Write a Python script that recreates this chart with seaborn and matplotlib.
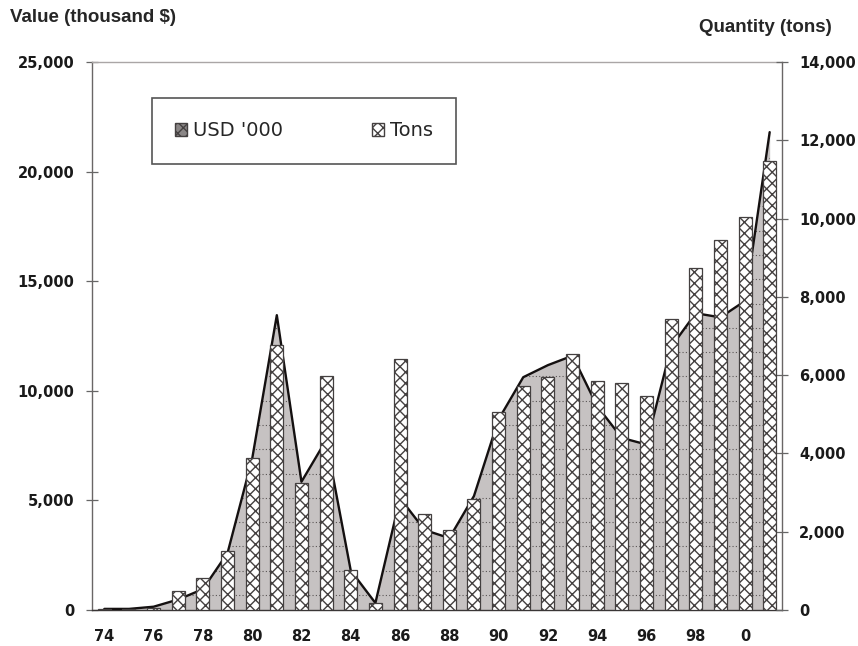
import numpy as np
import pandas as pd
import matplotlib
matplotlib.use("Agg")
import matplotlib.pyplot as plt
import seaborn as sns
from matplotlib.patches import Patch
from matplotlib.ticker import FuncFormatter

# ---- data ----
years = ['74', '75', '76', '77', '78', '79', '80', '81', '82', '83', '84', '85', '86', '87',
         '88', '89', '90', '91', '92', '93', '94', '95', '96', '97', '98', '99', '0', '1']
usd_000 = [50, 50, 150, 480, 950, 2600, 6900, 13450, 5850, 7750, 1800, 320, 5100, 3650,
           3280, 5200, 8700, 10620, 11170, 11600, 9300, 7850, 7550, 12000, 13540, 13350, 14100, 21800]
tons = [20, 20, 60, 480, 830, 1500, 3880, 6780, 3250, 5990, 1030, 190, 6400, 2450,
        2050, 2830, 5050, 5730, 5950, 6540, 5860, 5800, 5460, 7430, 8740, 9460, 10030, 11460]
tick_years = ['74', '76', '78', '80', '82', '84', '86', '88', '90', '92', '94', '96', '98', '0']
usd_ticks = [0, 5000, 10000, 15000, 20000, 25000]
ton_ticks = [0, 2000, 4000, 6000, 8000, 10000, 12000, 14000]

sns.set_theme(style="white")
plt.rcParams['font.family'] = ['DejaVu Sans']
plt.rcParams['hatch.linewidth'] = 1.0

AREA = '#c6c2c2'
EDGE = '#444040'

fig = plt.figure(figsize=(8.58, 6.46), dpi=100)
ax = fig.add_axes([92 / 858, 1 - 610 / 646, 690 / 858, 548 / 646])
ax2 = ax.twinx()

pos = np.arange(len(years))
area = ax.fill_between(pos, usd_000, 0, color=AREA, lw=0, zorder=1)
gl = ax.hlines(np.arange(684, 25000, 1108), -0.5, 27.5, colors='#5a5555',
               linestyles=(0, (1, 2)), lw=0.8, zorder=2)
gl.set_clip_path(area.get_paths()[0], ax.transData)
sns.lineplot(x=pos, y=usd_000, ax=ax, color='#141010', lw=1.7, zorder=3)

df = pd.DataFrame({'year': years, 'tons': tons})
sns.barplot(data=df, x='year', y='tons', ax=ax2, color='white', edgecolor=EDGE,
            linewidth=0.9, hatch='xxx', width=0.53, saturation=1, zorder=4)

# axes limits / ticks
ax.set_xlim(-0.5, 27.5)
ax.set_ylim(0, 25000)
ax2.set_ylim(0, 14000)
ax.set_yticks(usd_ticks)
ax2.set_yticks(ton_ticks)
fmt = FuncFormatter(lambda v, p: f"{v:,.0f}")
ax.yaxis.set_major_formatter(fmt)
ax2.yaxis.set_major_formatter(fmt)

ax.set_xticks([years.index(t) for t in tick_years])
ax.set_xticklabels(tick_years)
ax.set_xticks(np.arange(-0.5, 28, 1), minor=True)
ax.tick_params(axis='x', which='major', length=0, pad=14, labelsize=10.5, labelcolor='#1a1a1a')
ax.tick_params(axis='x', which='minor', direction='inout', length=8, width=0.9, color='#555')
ax.tick_params(axis='y', direction='inout', length=9, width=0.9, color='#666', pad=8,
               labelsize=10.5, labelcolor='#1a1a1a')
ax2.tick_params(axis='y', direction='inout', length=9, width=0.9, color='#666', pad=8,
                labelsize=10.5, labelcolor='#1a1a1a')
for lab in ax.get_yticklabels() + ax2.get_yticklabels() + ax.get_xticklabels():
    lab.set_fontweight('bold')

ax.set_xlabel('')
ax.set_ylabel('')
ax2.set_xlabel('')
ax2.set_ylabel('')

for s in ['left', 'top', 'bottom']:
    ax2.spines[s].set_visible(False)
ax.spines['right'].set_visible(False)
ax.spines['left'].set_color('#6a6666')
ax.spines['bottom'].set_color('#3a3636')
ax.spines['top'].set_color('#aaa6a6')
ax2.spines['right'].set_color('#6a6666')
for s in ax.spines.values():
    s.set_linewidth(1.0)
ax2.spines['right'].set_linewidth(1.0)

fig.text(10 / 858, 1 - 18 / 646, 'Value (thousand $)', ha='left', va='center',
         fontsize=13.5, fontweight='bold', family=['Liberation Sans', 'DejaVu Sans'])
fig.text(832 / 858, 1 - 28 / 646, 'Quantity (tons)', ha='right', va='center',
         fontsize=13.5, fontweight='bold', family=['Liberation Sans', 'DejaVu Sans'])

handles = [Patch(facecolor='#8a8686', edgecolor=EDGE, hatch='xxx', label="USD '000"),
           Patch(facecolor='white', edgecolor=EDGE, hatch='xxx', label='Tons')]
leg = fig.legend(handles=handles, loc='upper left', bbox_to_anchor=(152 / 858, 1 - 98 / 646),
                 ncol=2, frameon=True, fancybox=False, edgecolor='#555', framealpha=1,
                 borderpad=1.2, columnspacing=4.6, handlelength=0.6, handleheight=0.6,
                 handletextpad=0.3, fontsize=14, borderaxespad=0)
leg.get_frame().set_linewidth(1.2)

fig.savefig('out.png', dpi=100)
